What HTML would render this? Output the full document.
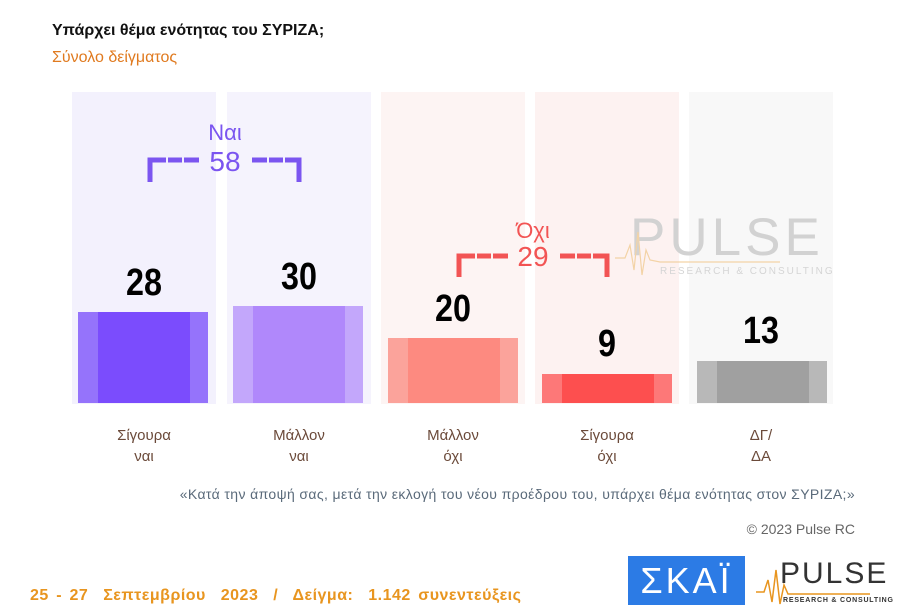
<!DOCTYPE html>
<html><head><meta charset="utf-8"><style>
body{margin:0;width:900px;height:616px;background:#fff;position:relative;overflow:hidden;font-family:"Liberation Sans",sans-serif}
.a{position:absolute}
.bg{position:absolute;top:92px;height:312px;width:144px}
.bar{position:absolute;width:130px}
.bar i{position:absolute;top:0;bottom:0;left:20px;right:18px}
.n{position:absolute;width:144px;text-align:center;font-weight:bold;font-size:38px;transform:scaleX(0.85);color:#000}
.l{position:absolute;width:144px;text-align:center;font-size:15px;color:#6b4a3a;line-height:21px;top:425px}
</style></head><body>
<div class="a" style="left:52px;top:22px;font-size:16px;font-weight:bold;color:#111">Υπάρχει θέμα ενότητας του ΣΥΡΙΖΑ;</div>
<div class="a" style="left:52px;top:49px;font-size:16px;color:#e07a1f">Σύνολο δείγματος</div>

<div class="bg" style="left:72px;background:#f3f1fd"></div>
<div class="bg" style="left:227px;background:#f5f3fd"></div>
<div class="bg" style="left:381px;background:#fdf4f3"></div>
<div class="bg" style="left:535px;background:#fdf2f1"></div>
<div class="bg" style="left:689px;background:#f8f8f8"></div>

<div class="a" style="left:630px;top:207px;font-size:53px;color:#d2d2d2;letter-spacing:4px;font-weight:normal">PULSE</div>
<div class="a" style="left:660px;top:266px;font-size:10px;color:#d5d5d5;letter-spacing:2px">RESEARCH &amp; CONSULTING</div>

<div class="bar" style="left:78px;top:312px;height:91px;background:#9573fb"><i style="background:#7b4cfd"></i></div>
<div class="bar" style="left:233px;top:306px;height:97px;background:#c3a7fb"><i style="background:#b088fb"></i></div>
<div class="bar" style="left:388px;top:338px;height:65px;background:#fba39b"><i style="background:#fd8a80"></i></div>
<div class="bar" style="left:542px;top:374px;height:29px;background:#fd7878"><i style="background:#fd4f4f"></i></div>
<div class="bar" style="left:697px;top:361px;height:42px;background:#b8b8b8"><i style="background:#a0a0a0"></i></div>

<div class="n" style="left:72px;top:262px">28</div>
<div class="n" style="left:227px;top:256px">30</div>
<div class="n" style="left:381px;top:288px">20</div>
<div class="n" style="left:535px;top:323px">9</div>
<div class="n" style="left:689px;top:310px">13</div>

<div class="a" style="left:190px;top:120px;width:70px;text-align:center;font-size:22px;color:#7b55f0">Ναι</div>
<div class="a" style="left:190px;top:146px;width:70px;text-align:center;font-size:28px;color:#7b55f0">58</div>
<svg class="a" style="left:0;top:0" width="900" height="616">
<g stroke="#7b55f0" stroke-width="5" fill="none">
<path d="M150 182 V160 H166"/><path d="M168 160 H182"/><path d="M184 160 H199"/>
<path d="M252 160 H267"/><path d="M269 160 H283"/><path d="M285 160 H299 V182"/>
</g>
<g stroke="#f25454" stroke-width="5" fill="none">
<path d="M459 277 V256 H475"/><path d="M477 256 H491"/><path d="M493 256 H508"/>
<path d="M560 256 H575"/><path d="M577 256 H591"/><path d="M593 256 H607 V277"/>
</g>
<polyline points="615,258 625,258 630,245 634,270 638,232 642,275 646,250 650,260 660,262 780,262" stroke="#f3d3a6" stroke-width="1.2" fill="none"/>
<polyline points="756,592 764,592 768,580 772,602 776,570 780,604 784,585 788,594 800,594 870,594" stroke="#e8951f" stroke-width="1.5" fill="none"/>
</svg>
<div class="a" style="left:498px;top:218px;width:70px;text-align:center;font-size:22px;color:#f25454">Όχι</div>
<div class="a" style="left:498px;top:241px;width:70px;text-align:center;font-size:28px;color:#f25454">29</div>

<div class="l" style="left:72px">Σίγουρα<br>ναι</div>
<div class="l" style="left:227px">Μάλλον<br>ναι</div>
<div class="l" style="left:381px">Μάλλον<br>όχι</div>
<div class="l" style="left:535px">Σίγουρα<br>όχι</div>
<div class="l" style="left:689px">ΔΓ/<br>ΔΑ</div>

<div class="a" style="right:45px;top:486px;font-size:14px;color:#5a6a7a;letter-spacing:0.38px">«Κατά την άποψή σας, μετά την εκλογή του νέου προέδρου του, υπάρχει θέμα ενότητας στον ΣΥΡΙΖΑ;»</div>
<div class="a" style="right:45px;top:521px;font-size:14px;color:#666">© 2023 Pulse RC</div>
<div class="a" style="left:30px;top:587px;font-size:16px;font-weight:bold;color:#e8951f;letter-spacing:0.5px;word-spacing:2.5px;white-space:pre">25 - 27  Σεπτεμβρίου  2023  /  Δείγμα:  1.142 συνεντεύξεις</div>
<div class="a" style="left:628px;top:556px;width:117px;height:49px;background:#2c7be5;color:#fff;font-size:36px;text-align:center;line-height:49px;letter-spacing:3px">ΣΚΑΪ</div>
<div class="a" style="left:780px;top:557px;font-size:30px;color:#333;letter-spacing:2px">PULSE</div>
<div class="a" style="left:783px;top:597px;font-size:7px;color:#333;letter-spacing:0.8px;font-weight:bold">RESEARCH &amp; CONSULTING</div>
</body></html>
